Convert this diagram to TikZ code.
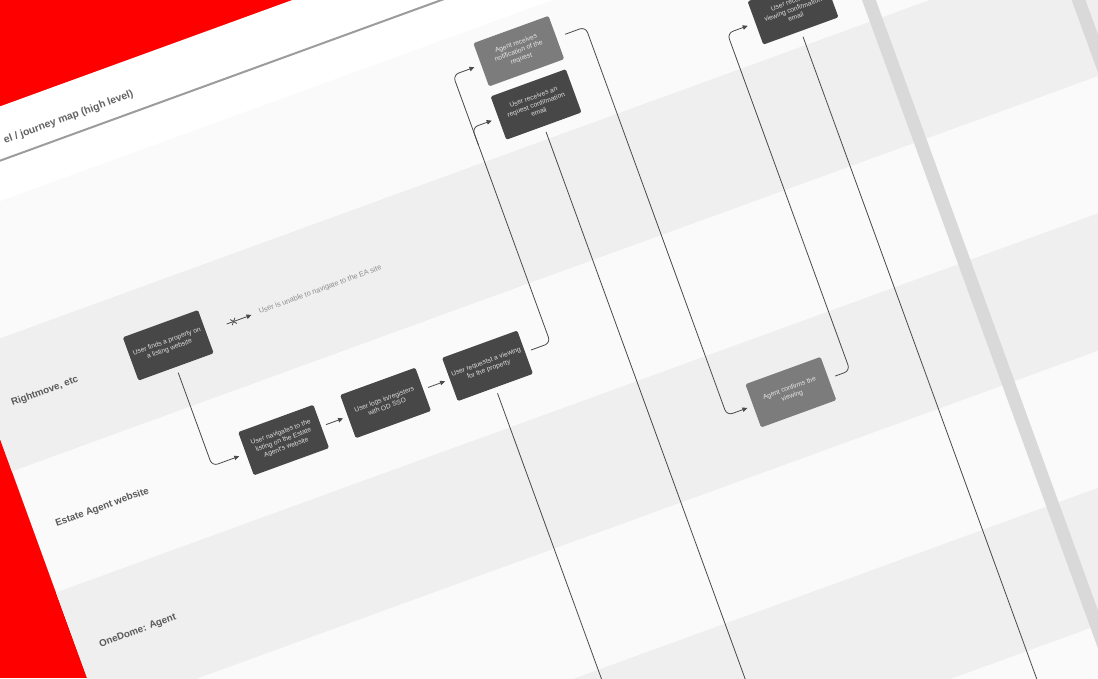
\documentclass[tikz,border=0pt]{standalone}
\usepackage{fontspec}
\setmainfont{Liberation Sans}
\usetikzlibrary{arrows.meta}
\definecolor{redbg}{HTML}{FF0000}
\definecolor{lanelight}{HTML}{FAFAFA}
\definecolor{lanedark}{HTML}{EFEFEF}
\definecolor{bandc}{HTML}{D9D9D9}
\definecolor{headc}{HTML}{9C9C9C}
\definecolor{titlec}{HTML}{626262}
\definecolor{labelc}{HTML}{5A5A5A}
\definecolor{boxdark}{HTML}{474747}
\definecolor{boxmid}{HTML}{7C7C7C}
\definecolor{boxtext}{HTML}{DDDDDD}
\definecolor{boxtextb}{HTML}{E6E6E6}
\definecolor{connc}{HTML}{4A4A4A}
\definecolor{notec}{HTML}{8C8C8C}
\tikzset{
  conn/.style={draw=connc, line width=0.8pt, rounded corners=6pt, -{Triangle[length=5pt,width=4.5pt]}},
  plain/.style={draw=connc, line width=0.8pt, rounded corners=6pt},
  boxbase/.style={transform shape, minimum width=80pt, minimum height=46pt, inner sep=0pt, rounded corners=1.5pt, align=center, font=\fontsize{6.7}{8}\selectfont},
  userbox/.style={boxbase, fill=boxdark, text=boxtext},
  agentbox/.style={boxbase, fill=boxmid, text=boxtextb},
  lanelabel/.style={transform shape, anchor=west, inner sep=0pt, text=labelc, font=\bfseries\fontsize{9.8}{11}\selectfont},
}
\begin{document}
\begin{tikzpicture}[x=1pt,y=-1pt]
\useasboundingbox (0,0) rectangle (1098,678);
\clip (0,0) rectangle (1098,678);
\fill[redbg] (0,0) rectangle (1098,678);
\begin{scope}[rotate=20]
  % page
  \fill[lanelight] (-150,180) rectangle (1250,1092);
  \fill[white] (-150,100) rectangle (1250,189);
  \fill[lanedark]  (-150,318) rectangle (1250,447);
  \fill[lanedark]  (-150,576) rectangle (1250,705);
  \fill[lanedark]  (-150,834) rectangle (1250,963);
  % column separators
  \fill[bandc] (810,189) rectangle (823,1092);
  \fill[bandc] (1007,189) rectangle (1020,1092);
  % header
  \draw[headc, line width=2pt] (-150,151) -- (1250,151);
  \node[transform shape, anchor=east, inner sep=0pt, text=titlec, font=\bfseries\fontsize{10.4}{12}\selectfont] (title) at (93,134) {el / journey map (high level)};
  % lane labels
  \node[lanelabel] (l1) at (-127,383) {Rightmove, etc};
  \node[lanelabel] (l2) at (-127,512) {Estate Agent website};
  \node[lanelabel] (l3) at (-127,640) {OneDome: Agent};
  % boxes
  \node[userbox] (b1) at (40,382) {User finds a property on\\a listing website};
  \node[userbox] (b2) at (116,510.5) {User navigates to the\\listing on the Estate\\Agent's website};
  \node[userbox] (b3) at (224.5,510.5) {User logs in/registers\\with OD SSO};
  \node[userbox] (b4) at (333,510.5) {User requestst a viewing\\for the property};
  \node[agentbox] (notif) at (470,225.5) {Agent receives\\notification of the\\request};
  \node[userbox] (conf) at (468,281.5) {User receives an\\request confirmation\\email};
  \node[userbox] (vconf) at (742,280) {User receives\\viewing confirmation\\email};
  \node[agentbox] (aconf) at (609,639) {Agent confirms the\\viewing};
  \node[transform shape, anchor=west, inner sep=0pt, text=notec, font=\fontsize{7.3}{9}\selectfont] (note) at (136.6,382) {User is unable to navigate to the EA site};
  % connectors
  \draw[conn, shorten <=22pt, shorten >=8pt] (b1.east) -- (note.west);
  \coordinate (xm) at (109.5,382);
  \draw[plain] (xm) ++(-2.5,-3) -- ++(5,6) (xm) ++(-2.5,3) -- ++(5,-6);
  \coordinate (k1) at (40,510.5);
  \draw[conn, shorten <=6pt, shorten >=7pt] (b1.south) -- (k1) -- (b2.west);
  \draw[conn, shorten <=5pt, shorten >=5pt] (b2.east) -- (b3.west);
  \draw[conn, shorten <=5pt, shorten >=5pt] (b3.east) -- (b4.west);
  \coordinate (k2) at (400,510.5);
  \coordinate (k3) at (400,225.5);
  \coordinate (k4) at (400,300);
  \coordinate (k5) at (400,281.5);
  \draw[conn, shorten <=6pt, shorten >=7pt] (b4.east) -- (k2) -- (k3) -- (notif.west);
  \draw[conn, shorten >=7pt] (k4) -- (k5) -- (conf.west);
  \coordinate (k6) at (541,225.5);
  \coordinate (k7) at (541,639);
  \draw[conn, shorten <=9pt, shorten >=6pt] (notif.east) -- (k6) -- (k7) -- (aconf.west);
  \coordinate (k8) at (672,639);
  \coordinate (k9) at (672,280);
  \draw[conn, shorten <=7pt, shorten >=8pt] (aconf.east) -- (k8) -- (k9) -- (vconf.west);
  \coordinate (e1) at (333,1150);
  \coordinate (e2) at (468,1150);
  \coordinate (e3) at (742,1150);
  \draw[plain, shorten <=6pt] (b4.south) -- (e1);
  \draw[plain, shorten <=6pt] (conf.south) -- (e2);
  \draw[plain, shorten <=6pt] (vconf.south) -- (e3);
\end{scope}
\end{tikzpicture}
\end{document}
